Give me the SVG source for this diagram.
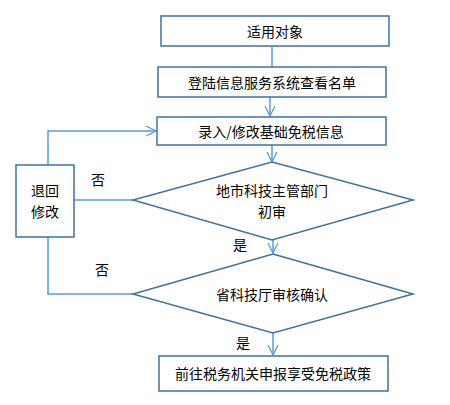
<svg xmlns="http://www.w3.org/2000/svg" width="450" height="405" viewBox="0 0 450 405">
<style>
.n{fill:#fff;stroke:#41719C;stroke-width:1.5}
.c{fill:none;stroke:#5B9BD5;stroke-width:1.5}
text{font-family:"Noto Sans CJK SC","Liberation Sans",sans-serif;font-size:14px;fill:#000;text-anchor:middle;dominant-baseline:central}
</style>
<defs>
<marker id="a" viewBox="0 0 12 12" refX="11" refY="6" markerWidth="12" markerHeight="12" markerUnits="userSpaceOnUse" orient="auto">
<path d="M1,1 L11,6 L1,11" fill="none" stroke="#5B9BD5" stroke-width="1.3"/>
</marker>
</defs>
<rect width="450" height="405" fill="#fff"/>
<g id="connectors">
<path class="c" d="M272,47 V67"/>
<path class="c" d="M270,97 V116" marker-end="url(#a)"/>
<path class="c" d="M272,145 V162" marker-end="url(#a)"/>
<path class="c" d="M273,240 V253" marker-end="url(#a)"/>
<path class="c" d="M273,333 V355" marker-end="url(#a)"/>
<path class="c" d="M48,165 V131 H156" marker-end="url(#a)"/>
<path class="c" d="M133,200 H74"/>
<path class="c" d="M48,237 V294 H133"/>
</g>
<g id="n1"><rect class="n" x="161" y="16" width="228" height="30"/><text x="275" y="31">适用对象</text></g>
<g id="n2"><rect class="n" x="158" y="67" width="228" height="30"/><text x="272" y="82">登陆信息服务系统查看名单</text></g>
<g id="n3"><rect class="n" x="157" y="117" width="229" height="28"/><text x="271" y="131">录入/修改基础免税信息</text></g>
<g id="d1"><polygon class="n" points="272,162 413,200 272,240 133,200"/><text x="272" y="190">地市科技主管部门</text><text x="272" y="211">初审</text></g>
<g id="d2"><polygon class="n" points="273,254 413,294 273,333 133,294"/><text x="272" y="294">省科技厅审核确认</text></g>
<g id="n4"><rect class="n" x="159" y="356" width="229" height="35"/><text x="273" y="373">前往税务机关申报享受免税政策</text></g>
<g id="back"><rect class="n" x="16" y="165" width="58" height="72"/><text x="45" y="190">退回</text><text x="45" y="211">修改</text></g>
<g id="labels">
<text x="98" y="179">否</text>
<text x="240" y="244">是</text>
<text x="102" y="269">否</text>
<text x="243" y="342">是</text>
</g>
</svg>
